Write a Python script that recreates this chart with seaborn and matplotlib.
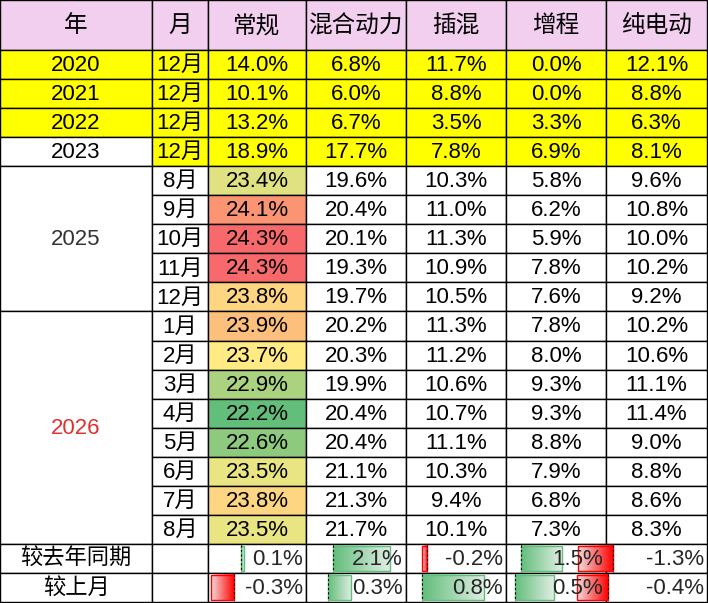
import numpy as np
import seaborn as sns
import matplotlib.pyplot as plt
from matplotlib.colors import LinearSegmentedColormap
from matplotlib.patches import Rectangle

sns.set_style("white")
plt.rcParams['font.family'] = ['Liberation Sans', 'Noto Sans CJK SC', 'DejaVu Sans']

headers = ["年", "月", "常规", "混合动力", "插混", "增程", "纯电动"]
hist_years = ["2020", "2021", "2022", "2023"]
hist_vals = [[14.0, 6.8, 11.7, 0.0, 12.1],
             [10.1, 6.0, 8.8, 0.0, 8.8],
             [13.2, 6.7, 3.5, 3.3, 6.3],
             [18.9, 17.7, 7.8, 6.9, 8.1]]
months_2025 = ["8月", "9月", "10月", "11月", "12月"]
vals_2025 = [[23.4, 19.6, 10.3, 5.8, 9.6],
             [24.1, 20.4, 11.0, 6.2, 10.8],
             [24.3, 20.1, 11.3, 5.9, 10.0],
             [24.3, 19.3, 10.9, 7.8, 10.2],
             [23.8, 19.7, 10.5, 7.6, 9.2]]
months_2026 = ["1月", "2月", "3月", "4月", "5月", "6月", "7月", "8月"]
vals_2026 = [[23.9, 20.2, 11.3, 7.8, 10.2],
             [23.7, 20.3, 11.2, 8.0, 10.6],
             [22.9, 19.9, 10.6, 9.3, 11.1],
             [22.2, 20.4, 10.7, 9.3, 11.4],
             [22.6, 20.4, 11.1, 8.8, 9.0],
             [23.5, 21.1, 10.3, 7.9, 8.8],
             [23.8, 21.3, 9.4, 6.8, 8.6],
             [23.5, 21.7, 10.1, 7.3, 8.3]]
diff_labels = ["较去年同期", "较上月"]
diff_vals = [[0.1, 2.1, -0.2, 1.5, -1.3],
             [-0.3, 0.3, 0.8, 0.5, -0.4]]

# layout (pixel space)
W, H = 708, 603
xs = [0, 152, 208, 306, 406, 506, 606, 707]
hdr_h = 50
row_h = (H - 1 - hdr_h) / 19
bar_axis = [[33, 27, 21, 15, 7], [26, 22, 16, 9, 2]]
bar_scale = [27, 78]
FS = 16

fig = plt.figure(figsize=(W / 100, H / 100), dpi=100)
ax = fig.add_axes([0, 0, 1, 1])
ax.set_xlim(0, W)
ax.set_ylim(H, 0)
ax.axis("off")

def ry(i):
    return hdr_h + i * row_h

def cell(x0, x1, y0, y1, fc="white", text=None, color="black", size=FS):
    ax.add_patch(Rectangle((x0, y0), x1 - x0, y1 - y0, fc=fc, ec="black", lw=1))
    if text is not None:
        ax.text((x0 + x1) / 2, (y0 + y1) / 2 + 1, text, ha="center", va="center",
                fontsize=size, color=color)

pink = "#F2CEEF"
yellow = "#FFFF00"
for j, h in enumerate(headers):
    cell(xs[j], xs[j + 1], 0, hdr_h, pink, h, size=17)

for i, (yr, row) in enumerate(zip(hist_years, hist_vals)):
    cell(xs[0], xs[1], ry(i), ry(i + 1), yellow if i < 3 else "white", yr)
    cell(xs[1], xs[2], ry(i), ry(i + 1), yellow, "12月")
    for j, v in enumerate(row):
        cell(xs[j + 2], xs[j + 3], ry(i), ry(i + 1), yellow, f"{v:.1f}%")

cmap = LinearSegmentedColormap.from_list("rdylgn", ["#63BE7B", "#FFEB84", "#F8696B"])
reg = [r[0] for r in vals_2025 + vals_2026]
lo, mid, hi = min(reg), float(np.median(reg)), max(reg)

def heat(v):
    f = 0.5 * (v - lo) / (mid - lo) if v <= mid else 0.5 + 0.5 * (v - mid) / (hi - mid)
    return cmap(f)

r = 4
for yr, months, vals, ycol in [("2025", months_2025, vals_2025, "#333333"),
                                ("2026", months_2026, vals_2026, "#E03030")]:
    cell(xs[0], xs[1], ry(r), ry(r + len(months)), "white", yr, ycol)
    for m, row in zip(months, vals):
        cell(xs[1], xs[2], ry(r), ry(r + 1), "white", m)
        cell(xs[2], xs[3], ry(r), ry(r + 1), heat(row[0]), f"{row[0]:.1f}%")
        for j, v in enumerate(row[1:]):
            cell(xs[j + 3], xs[j + 4], ry(r), ry(r + 1), "white", f"{v:.1f}%")
        r += 1

green = sns.light_palette("#63BE7B", as_cmap=True)
red = sns.light_palette("#FF0000", as_cmap=True)
for k, (lab, row) in enumerate(zip(diff_labels, diff_vals)):
    y0, y1 = ry(r), ry(r + 1)
    cell(xs[0], xs[1], y0, y1, "white", lab)
    cell(xs[1], xs[2], y0, y1, "white")
    for j, v in enumerate(row):
        x0, x1 = xs[j + 2], xs[j + 3]
        cell(x0, x1, y0, y1, "white")
        a = x0 + bar_axis[k][j]
        w = v * bar_scale[k]
        bx0, bx1 = min(a, a + w), max(a, a + w)
        grad = np.linspace(0, 1, 50)[None, :]
        if v < 0:
            cm, ec = red, "#FF0000"
        else:
            grad = grad[:, ::-1]
            cm, ec = green, "#63BE7B"
        ax.imshow(grad, cmap=cm, vmin=-0.1, vmax=1, aspect="auto",
                  extent=(bx0, bx1, y1 - 2, y0 + 2), zorder=2)
        ax.add_patch(Rectangle((bx0, y0 + 2), bx1 - bx0, row_h - 4, fc="none",
                               ec=ec, lw=1, zorder=3))
        ax.plot([a, a], [y0 + 1, y1 - 1], color="black", lw=0.8, ls=(0, (2, 2)), zorder=4)
        ax.text(x1 - 3, (y0 + y1) / 2 + 1, f"{v:.1f}%", ha="right", va="center",
                fontsize=FS, zorder=5)
    r += 1

ax.set_xlim(0, W)
ax.set_ylim(H, 0)
fig.savefig("out.png", dpi=100)
